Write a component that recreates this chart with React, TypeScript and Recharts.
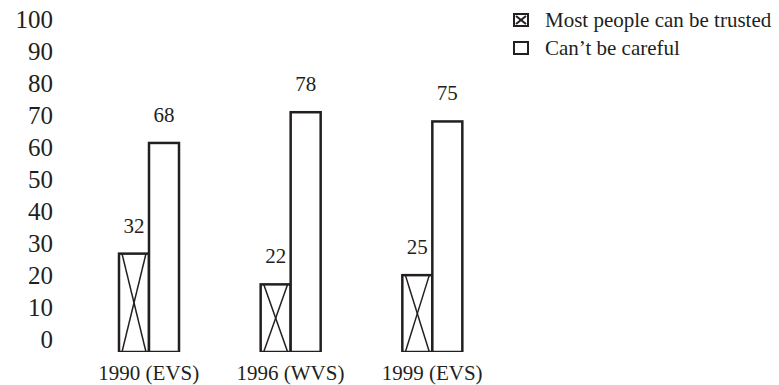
import { BarChart, Bar, XAxis, YAxis, LabelList, Legend } from 'recharts';

// survey waves and shares (%)
const surveys = ['1990 (EVS)', '1996 (WVS)', '1999 (EVS)'];
const trusted = [32, 22, 25];
const careful = [68, 78, 75];
const percentTicks = [0, 10, 20, 30, 40, 50, 60, 70, 80, 90, 100];

const seriesOrder = ['trusted', 'careful'];
const seriesNames: Record<string, string> = {
  trusted: 'Most people can be trusted',
  careful: 'Can\u2019t be careful',
};

const data = surveys.map((survey, i) => ({
  survey,
  trusted: trusted[i],
  careful: careful[i],
}));

const INK = '#231f20';
const FONT = '"Liberation Serif", "Times New Roman", Times, serif';

const CrossedBar = (props: any) => {
  const { x, y, width, height } = props;
  return (
    <g>
      <rect x={x} y={y} width={width} height={height} fill="#fff" stroke={INK} strokeWidth={2.5} />
      <line x1={x + 3} y1={y} x2={x + width - 3} y2={y + height} stroke={INK} strokeWidth={1.5} />
      <line x1={x + width - 3} y1={y} x2={x + 3} y2={y + height} stroke={INK} strokeWidth={1.5} />
    </g>
  );
};

const PlainBar = (props: any) => {
  const { x, y, width, height } = props;
  return <rect x={x} y={y} width={width} height={height} fill="#fff" stroke={INK} strokeWidth={2.5} />;
};

const ValueLabel = (props: any) => {
  const { x, y, width, value } = props;
  return (
    <text x={x + width / 2} y={y - 21} textAnchor="middle" fontFamily={FONT} fontSize={21} fill={INK}>
      {value}
    </text>
  );
};

const PercentTick = (props: any) => {
  const { y, payload } = props;
  return (
    <text x={53} y={y + 8} textAnchor="end" fontFamily={FONT} fontSize={25} fill={INK}>
      {payload.value}
    </text>
  );
};

const SurveyTick = (props: any) => {
  const { x, payload } = props;
  return (
    <text x={x} y={380} textAnchor="middle" fontFamily={FONT} fontSize={21} fill={INK}>
      {payload.value}
    </text>
  );
};

const LegendIcon = ({ crossed }: { crossed: boolean }) => (
  <svg width={16} height={14} style={{ display: 'block' }}>
    <rect x={1} y={1} width={14} height={12} fill="#fff" stroke={INK} strokeWidth={2} />
    {crossed && (
      <>
        <line x1={3} y1={3} x2={13} y2={11} stroke={INK} strokeWidth={2} />
        <line x1={13} y1={3} x2={3} y2={11} stroke={INK} strokeWidth={2} />
      </>
    )}
  </svg>
);

const SeriesLegend = (props: any) => {
  const { payload = [] } = props;
  const entries = [...payload].sort(
    (a: any, b: any) => seriesOrder.indexOf(a.dataKey) - seriesOrder.indexOf(b.dataKey),
  );
  return (
    <div style={{ fontFamily: FONT, fontSize: 21, color: INK, lineHeight: '28px' }}>
      {entries.map((entry: any) => (
        <div key={entry.dataKey} style={{ display: 'flex', alignItems: 'center', height: 28 }}>
          <LegendIcon crossed={entry.dataKey === 'trusted'} />
          <span style={{ marginLeft: 16 }}>{seriesNames[entry.dataKey]}</span>
        </div>
      ))}
    </div>
  );
};

export default function App() {
  return (
    <div style={{ width: 779, height: 385, background: '#fff' }}>
      <style>{'body { margin: 0; }'}</style>
      <BarChart
        width={779}
        height={385}
        data={data}
        margin={{ top: 20, right: 276, bottom: 0, left: 0 }}
        barSize={30}
        barGap={0}
      >
        <XAxis
          dataKey="survey"
          axisLine={false}
          tickLine={false}
          height={33}
          tick={<SurveyTick />}
          interval={0}
        />
        <YAxis
          yAxisId="percent"
          type="number"
          domain={[-3.75, 100]}
          allowDataOverflow
          ticks={percentTicks}
          axisLine={false}
          tickLine={false}
          width={78}
          tick={<PercentTick />}
          interval={0}
        />
        <YAxis yAxisId="bars" type="number" domain={[0, 108]} allowDataOverflow hide />
        <Legend
          layout="vertical"
          verticalAlign="middle"
          align="center"
          content={<SeriesLegend />}
          wrapperStyle={{ left: 513, top: 6, width: 266 }}
        />
        <Bar yAxisId="bars" dataKey="trusted" shape={<CrossedBar />} isAnimationActive={false}>
          <LabelList dataKey="trusted" content={<ValueLabel />} />
        </Bar>
        <Bar yAxisId="bars" dataKey="careful" shape={<PlainBar />} isAnimationActive={false}>
          <LabelList dataKey="careful" content={<ValueLabel />} />
        </Bar>
      </BarChart>
    </div>
  );
}
